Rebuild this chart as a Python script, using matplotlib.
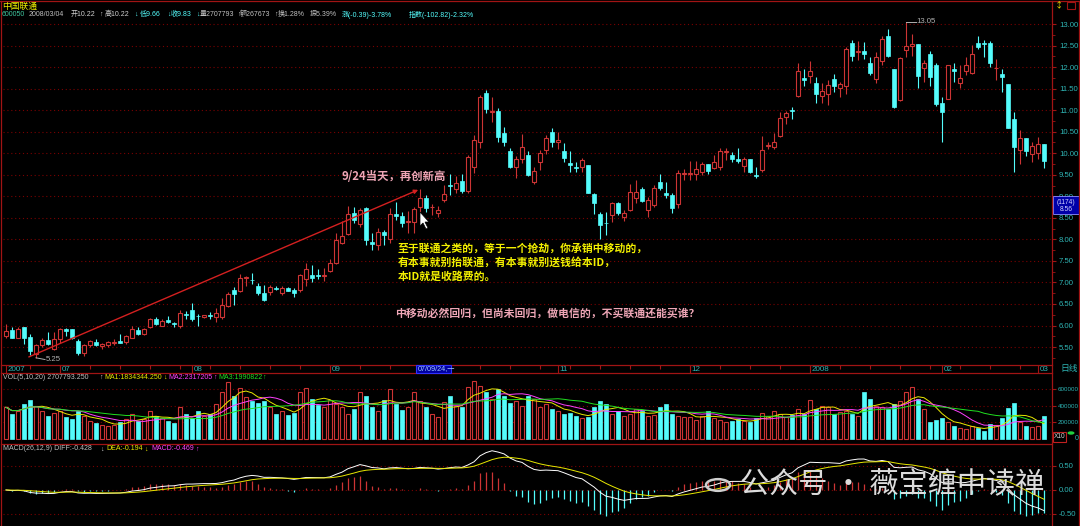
import matplotlib
matplotlib.use('Agg')
import matplotlib.pyplot as plt
import numpy as np
import pandas as pd
from matplotlib.patches import Rectangle, Polygon, Circle
from matplotlib.lines import Line2D

plt.rcParams['font.family'] = ['Noto Sans CJK SC', 'DejaVu Sans']

# 日K线数据 (2007-06 ~ 2008-03-04)
opens = [5.76, 5.90, 5.72, 5.97, 5.74, 5.33, 5.54, 5.66, 5.46, 5.68,
         5.92, 5.92, 5.64, 5.37, 5.55, 5.62, 5.52, 5.55, 5.60, 5.64,
         5.61, 5.72, 5.89, 5.81, 5.97, 6.15, 5.99, 6.12, 6.06, 5.98,
         6.26, 6.36, 6.23, 6.19, 6.25, 6.20, 6.19, 6.46, 6.82, 6.80,
         7.10, 7.06, 6.92, 6.75, 6.78, 6.87, 6.75, 6.88, 6.82, 6.82,
         7.07, 7.18, 7.17, 7.16, 7.26, 7.46, 7.92, 8.13, 8.62, 8.36,
         8.72, 7.95, 7.87, 8.18, 8.02, 8.60, 8.54, 8.41, 8.41, 8.76,
         8.95, 8.74, 8.62, 8.91, 9.26, 9.18, 9.36, 9.13, 9.69, 10.27,
         11.39, 10.95, 10.99, 10.46, 10.04, 9.67, 9.86, 9.96, 9.34, 9.80,
         10.07, 10.50, 10.26, 10.06, 9.77, 9.67, 9.69, 9.73, 9.05, 8.60,
         8.39, 8.57, 8.85, 8.53, 8.68, 8.95, 9.16, 8.68, 8.80, 9.34,
         9.07, 9.03, 8.82, 9.51, 9.52, 9.52, 9.57, 9.75, 9.65, 9.67,
         10.03, 9.96, 9.86, 9.70, 9.86, 9.50, 9.61, 10.17, 10.15, 10.40,
         10.85, 11.00, 11.33, 11.74, 11.80, 11.64, 11.33, 11.38, 11.72, 11.51,
         11.56, 12.55, 12.36, 12.38, 12.10, 11.72, 12.13, 12.71, 11.95, 11.24,
         12.40, 12.50, 12.54, 11.97, 12.30, 12.05, 11.16, 11.27, 11.96, 11.64,
         11.92, 11.87, 12.57, 12.55, 12.57, 11.97, 11.85, 11.60, 10.79, 10.07,
         10.35, 9.98, 10.00, 10.22]
highs = [6.03, 5.97, 5.97, 5.97, 5.80, 5.57, 5.72, 5.85, 5.85, 5.95,
         5.95, 5.92, 5.68, 5.58, 5.66, 5.69, 5.60, 5.65, 5.69, 5.81,
         5.79, 5.98, 5.97, 5.94, 6.17, 6.19, 6.14, 6.22, 6.07, 6.36,
         6.34, 6.53, 6.26, 6.25, 6.31, 6.40, 6.65, 6.77, 6.90, 7.20,
         7.15, 7.22, 6.99, 6.93, 6.95, 6.91, 6.91, 6.90, 6.86, 7.20,
         7.44, 7.41, 7.31, 7.34, 7.54, 8.15, 8.43, 8.78, 8.76, 8.72,
         8.76, 8.14, 8.26, 8.22, 8.72, 8.87, 8.64, 8.67, 8.74, 9.18,
         9.03, 8.82, 8.77, 9.26, 9.52, 9.46, 9.52, 9.96, 10.42, 11.35,
         11.47, 11.30, 11.04, 10.62, 10.11, 9.94, 10.45, 10.04, 9.67, 10.07,
         10.42, 10.58, 10.50, 10.23, 10.06, 9.80, 9.88, 9.73, 9.07, 8.64,
         8.64, 8.87, 8.87, 8.68, 9.28, 9.38, 9.22, 8.99, 9.26, 9.52,
         9.34, 9.07, 9.61, 9.63, 9.83, 9.83, 9.80, 9.75, 9.96, 10.11,
         10.11, 10.03, 10.11, 9.92, 9.86, 9.69, 10.40, 10.27, 10.46, 10.96,
         10.99, 11.07, 12.09, 11.95, 12.15, 11.78, 11.62, 11.70, 11.85, 11.66,
         12.47, 12.63, 12.61, 12.59, 12.24, 12.36, 12.71, 12.88, 11.95, 12.23,
         13.05, 12.77, 12.54, 12.17, 12.38, 12.09, 11.30, 12.05, 12.09, 12.05,
         12.23, 12.51, 12.72, 12.63, 12.60, 12.18, 11.95, 11.60, 10.96, 10.54,
         10.35, 10.27, 10.38, 10.22]
lows = [5.72, 5.70, 5.70, 5.57, 5.32, 5.25, 5.50, 5.55, 5.42, 5.60,
        5.76, 5.68, 5.32, 5.30, 5.50, 5.52, 5.46, 5.50, 5.54, 5.59,
        5.57, 5.70, 5.79, 5.79, 5.94, 6.02, 5.98, 6.05, 5.97, 5.95,
        6.15, 6.10, 6.00, 6.17, 6.15, 6.07, 6.15, 6.42, 6.47, 6.77,
        6.92, 6.97, 6.71, 6.57, 6.70, 6.83, 6.70, 6.79, 6.66, 6.78,
        6.92, 7.00, 7.07, 7.04, 7.24, 7.42, 7.90, 8.09, 8.37, 8.29,
        7.87, 7.75, 7.75, 7.87, 7.91, 8.45, 8.29, 8.14, 8.14, 8.64,
        8.64, 8.57, 8.53, 8.87, 9.03, 9.07, 9.08, 9.07, 9.53, 10.11,
        10.93, 10.73, 10.27, 10.17, 9.65, 9.42, 9.77, 9.46, 9.29, 9.61,
        9.98, 10.15, 10.09, 9.80, 9.57, 9.57, 9.57, 9.07, 8.60, 8.02,
        8.10, 8.41, 8.57, 8.43, 8.67, 8.84, 8.87, 8.53, 8.76, 9.15,
        8.95, 8.62, 8.72, 9.38, 9.38, 9.38, 9.49, 9.52, 9.63, 9.61,
        9.84, 9.80, 9.77, 9.57, 9.55, 9.42, 9.57, 10.09, 10.09, 10.38,
        10.68, 10.79, 11.31, 11.55, 11.62, 11.17, 11.17, 11.12, 11.43, 11.31,
        11.38, 12.13, 12.16, 12.18, 11.82, 11.62, 12.05, 12.23, 11.04, 11.22,
        12.23, 12.26, 11.51, 11.66, 11.56, 11.10, 10.27, 11.25, 11.66, 11.51,
        11.82, 11.85, 12.43, 12.24, 12.01, 11.70, 11.43, 10.58, 9.57, 9.76,
        9.94, 9.80, 9.86, 9.66]
closes = [5.88, 5.72, 5.92, 5.72, 5.41, 5.55, 5.66, 5.57, 5.68, 5.92,
          5.88, 5.72, 5.37, 5.55, 5.63, 5.54, 5.58, 5.61, 5.62, 5.59,
          5.75, 5.92, 5.81, 5.92, 6.15, 6.03, 6.11, 6.09, 6.03, 6.29,
          6.25, 6.15, 6.22, 6.25, 6.22, 6.28, 6.48, 6.73, 6.74, 7.11,
          7.12, 7.05, 6.76, 6.59, 6.90, 6.85, 6.88, 6.81, 6.76, 7.17,
          7.31, 7.10, 7.15, 7.17, 7.45, 7.98, 8.08, 8.59, 8.45, 8.68,
          7.98, 7.89, 8.18, 8.10, 8.60, 8.54, 8.39, 8.43, 8.71, 8.95,
          8.72, 8.75, 8.68, 9.05, 9.24, 9.30, 9.13, 9.92, 10.31, 11.31,
          11.02, 10.98, 10.37, 10.27, 9.67, 9.86, 10.14, 9.49, 9.59, 10.01,
          10.35, 10.27, 10.31, 9.88, 9.73, 9.66, 9.84, 9.08, 8.84, 8.33,
          8.37, 8.85, 8.62, 8.62, 9.09, 9.11, 8.90, 8.91, 9.19, 9.19,
          9.03, 8.72, 9.55, 9.53, 9.54, 9.63, 9.75, 9.59, 9.80, 10.05,
          10.05, 9.86, 9.83, 9.86, 9.57, 9.47, 10.07, 10.19, 10.27, 10.81,
          10.93, 10.99, 11.91, 11.69, 11.91, 11.38, 11.44, 11.58, 11.56, 11.61,
          12.41, 12.26, 12.37, 12.30, 11.87, 12.24, 12.65, 12.26, 11.08, 12.20,
          12.49, 12.53, 11.79, 12.09, 11.78, 11.14, 10.96, 12.05, 11.92, 11.74,
          12.05, 12.30, 12.47, 12.53, 12.09, 11.98, 11.76, 10.58, 10.14, 10.35,
          10.06, 10.17, 10.22, 9.83]
# 成交量 (单位: 千, 坐标 X10)
volumes = [380, 300, 340, 420, 470, 400, 330, 270, 310,
           340, 260, 240, 330, 280, 210, 190, 170, 160, 170, 200,
           240, 300, 220, 240, 330, 270, 250, 210, 190, 380, 300,
           250, 330, 280, 300, 420, 560, 680, 520, 610, 500, 450,
           430, 460, 380, 300, 330, 290, 310, 560, 610, 480, 410, 380,
           470, 420, 380, 300, 360, 560, 520, 380, 330, 470, 600,
           420, 350, 380, 560, 450, 380, 300, 260, 440,
           520, 400, 380, 620, 700, 640, 560, 480, 600, 520, 430,
           460, 400, 520, 480, 380, 420, 360,
           330, 300, 310, 280, 250, 260, 380, 460, 420, 300, 330,
           280, 300, 360, 330, 270, 290, 380, 420, 300, 280, 260,
           260, 230, 280, 330, 250, 230, 200, 210, 240, 220, 200,
           250, 310, 280, 330, 300, 260, 290, 360, 300,
           470, 360, 400, 380, 300, 320, 330, 300, 280, 560, 480,
           400, 380, 360, 420, 450, 560, 620, 480, 360, 200, 230,
           250, 200, 150, 130, 120, 150, 130, 100, 180, 170, 250,
           370, 430, 200, 150, 140,
           155, 270.78]

month_pos = [0, 9, 31, 54, 92, 114, 134, 156, 172]
month_labels = ['2007', '07', '08', '09', '11', '12', '2008', '02', '03']
price_ticks = np.arange(5.5, 13.01, 0.5)
vol_ticks = [200000, 400000, 600000]
macd_ticks = [-0.5, 0.0, 0.5]

o = np.array(opens); h = np.array(highs); l = np.array(lows); c = np.array(closes)
vol = np.array(volumes) * 1000
idx = np.arange(len(c))
up = c >= o

# MACD(26,12,9) 和 VOL均线
s = pd.Series(c)
diff = s.ewm(span=12, adjust=False).mean() - s.ewm(span=26, adjust=False).mean()
dea = diff.ewm(span=9, adjust=False).mean()
macd = 2 * (diff - dea)
vs = pd.Series(vol)
ma5 = vs.rolling(5, min_periods=1).mean()
ma10 = vs.rolling(10, min_periods=1).mean()
ma20 = vs.rolling(20, min_periods=1).mean()

RED = '#cc3434'
CYAN = '#54fcfc'
TEAL = '#2fb4b4'
GRID = '#7a0000'
BORDER = '#a01414'
NUMFONT = ['Liberation Sans', 'DejaVu Sans']
HEADFONT = ['Liberation Sans', 'Noto Sans CJK SC', 'DejaVu Sans']

W, H = 1080, 526
fig = plt.figure(figsize=(10.8, 5.26), dpi=100, facecolor='black')

def fx(x):
    return x / W

def fy(y):
    return 1 - y / H

def panel(x0, y0, x1, y1):
    a = fig.add_axes([x0 / W, 1 - y1 / H, (x1 - x0) / W, (y1 - y0) / H])
    a.set_facecolor('black')
    for sp in a.spines.values():
        sp.set_visible(False)
    a.set_xlim(-0.5, 174.33)
    a.set_xticks([])
    return a

def right_ticks(a, ticks, labels, size=5.6, pad=2):
    a.yaxis.tick_right()
    a.set_yticks(ticks)
    a.set_yticklabels(labels)
    a.tick_params(axis='y', length=3, width=0.8, color=BORDER, labelcolor=TEAL,
                  labelsize=size, pad=pad)
    a.grid(axis='y', color=GRID, linestyle=(0, (1, 2.5)), lw=0.8)
    for t in a.get_yticklabels():
        t.set_family(NUMFONT)

# ---- 主图 K线 ----
ax = panel(3, 20, 1052, 365)
ax.set_ylim(5.083, 13.093)
right_ticks(ax, price_ticks, ['%.2f' % t for t in price_ticks])
ax.set_yticks(np.arange(5.25, 13.0, 0.5), minor=True)
ax.tick_params(axis='y', which='minor', length=2, color=BORDER)

cols = np.where(up, RED, CYAN)
ax.vlines(idx, l, h, colors=cols, lw=0.8, zorder=2)
bb = np.minimum(o, c)
bh = np.maximum(np.abs(c - o), 0.012)
ax.bar(idx[up], bh[up], bottom=bb[up], width=0.66, facecolor='black',
       edgecolor=RED, lw=0.8, zorder=3)
ax.bar(idx[~up], bh[~up], bottom=bb[~up], width=0.66, facecolor=CYAN,
       edgecolor=CYAN, lw=0.5, zorder=3)

# 最高最低标注
hi = int(np.argmax(h)); lo = int(np.argmin(l))
ax.plot([hi, hi + 1.6], [h[hi], h[hi]], color='#b0b0b0', lw=0.7, zorder=4)
ax.text(hi + 1.8, h[hi], '%.2f' % h[hi], color='#b0b0b0', fontsize=5.6,
        va='center', family=NUMFONT, zorder=4)
ax.plot([lo, lo + 1.5], [l[lo], l[lo] - 0.04], color='#b0b0b0', lw=0.7, zorder=4)
ax.text(lo + 1.7, l[lo] - 0.04, '%.2f' % l[lo], color='#b0b0b0', fontsize=5.6,
        va='center', family=NUMFONT, zorder=4)

# 趋势线
trend_x = [3.8, 68.7]
trend_y = [5.27, 9.15]
ax.annotate('', xy=(trend_x[1], trend_y[1]), xytext=(trend_x[0], trend_y[0]),
            arrowprops=dict(arrowstyle='-|>', color='#d42020', lw=1.0,
                            mutation_scale=6, shrinkA=0, shrinkB=0), zorder=5)

PINK = '#eea6b6'
YEL = '#f2f000'
fig.text(fx(342), fy(176), '9/24当天，再创新高', color=PINK, fontsize=8.2,
         fontweight='bold', va='center')
for k, line in enumerate(['至于联通之类的，等于一个抢劫，你承销中移动的，',
                          '有本事就别抬联通，有本事就别送钱给本ID，',
                          '本ID就是收路费的。']):
    fig.text(fx(398), fy(249 + 13.5 * k), line, color=YEL, fontsize=7.8,
             fontweight='bold', va='center')
fig.text(fx(395), fy(313), '中移动必然回归，但尚未回归，做电信的，不买联通还能买谁？',
         color=PINK, fontsize=7.8, fontweight='bold', va='center')

# 鼠标指针
cur = [(420, 212), (420, 226), (423, 223), (426, 229), (428, 228), (425, 222), (429, 222)]
fig.patches.append(Polygon([(fx(x), fy(y)) for x, y in cur], closed=True,
                           facecolor='white', edgecolor='black', lw=0.5,
                           transform=fig.transFigure, zorder=10))

# ---- 日期条 ----
axd = panel(3, 365, 1052, 373)
axd.set_ylim(0, 1)
axd.set_yticks([])
axd.vlines(np.arange(4, 174, 5), 0.55, 1, color=BORDER, lw=0.8)
axd.vlines(month_pos, 0, 1, color=BORDER, lw=0.8)
for p, lab in zip(month_pos, month_labels):
    axd.text(p + 0.3, 0.45, lab, color=TEAL, fontsize=5.8, va='center',
             family=NUMFONT)
fig.patches.append(Rectangle((fx(416), fy(373)), fx(35), 8 / H, facecolor='#0000a0',
                             edgecolor='#3030ff', lw=0.8, transform=fig.transFigure, zorder=10))
fig.text(fx(418), fy(369), '07/09/24,一', color='#a0c8ff', fontsize=5.2,
         va='center', family=HEADFONT, zorder=11)

# ---- 成交量 ----
axv = panel(3, 373, 1052, 444)
axv.set_ylim(-60000, 790000)
right_ticks(axv, vol_ticks, [str(t) for t in vol_ticks], size=4.5, pad=1.2)
axv.bar(idx[up], vol[up], width=0.66, facecolor='black', edgecolor=RED, lw=0.8, zorder=3)
axv.bar(idx[~up], vol[~up], width=0.66, facecolor=CYAN, edgecolor=CYAN, lw=0.5, zorder=3)
axv.plot(idx, ma5, color='#e8e800', lw=0.7, zorder=4)
axv.plot(idx, ma10, color='#ff40ff', lw=0.7, zorder=4)
axv.plot(idx, ma20, color='#20e020', lw=0.7, zorder=4)

# ---- MACD ----
axm = panel(3, 444, 1052, 526)
axm.set_ylim(-0.75, 0.958)
right_ticks(axm, macd_ticks, ['-0.50', '0.00', '0.50'])
axm.vlines(idx, 0, macd, colors=np.where(macd >= 0, RED, CYAN), lw=0.9, zorder=3)
axm.plot(idx, diff, color='white', lw=0.7, zorder=4)
axm.plot(idx, dea, color='#e8e800', lw=0.7, zorder=4)

# ---- 边框线 ----
for (x0, y0, x1, y1) in [(0, 1, 1080, 1), (1, 1, 1, 526), (1052, 1, 1052, 526),
                         (1079, 1, 1079, 526), (1, 365, 1052, 365),
                         (1, 373, 1052, 373), (1, 444, 1052, 444)]:
    fig.add_artist(Line2D([fx(x0), fx(x1)], [fy(y0), fy(y1)], color=BORDER, lw=0.9))

# ---- 标题栏 ----
fig.text(fx(2), fy(6), '中国联通', color='#f0f000', fontsize=6.3, va='center')
header = [(2, '600050', '#40c8a0'), (29, '2008/03/04', '#c0c0c0'),
          (71, '开10.22', '#d0d0d0'), (99, '↑', '#d0d0d0'),
          (105, '高10.22', '#d0d0d0'), (134, '↓', CYAN),
          (140, '低9.66', CYAN), (167, '↓', CYAN), (171, '收9.83', CYAN),
          (196, '↓', CYAN), (200, '量2707793', '#c0c0c0'), (237, '↑', '#d0d0d0'),
          (240, '额267673', '#c0c0c0'), (274, '↑', '#d0d0d0'),
          (278, '换1.28%', '#c0c0c0'), (310, '振5.39%', '#c0c0c0'),
          (342, '涨(-0.39)-3.78%', CYAN), (409, '指数(-102.82)-2.32%', CYAN)]
for x, t, col in header:
    fig.text(fx(x), fy(14.5), t, color=col, fontsize=5.0, va='center', family=HEADFONT)

vol_head = [(3, 'VOL(5,10,20) 2707793.250', '#c0c0c0'), (99, '↑', '#d0d0d0'),
            (104, 'MA1:1834344.250', '#e8e800'), (163, '↓', '#e8e800'),
            (168, 'MA2:2317205', '#ff40ff'), (213, '↑', '#ff40ff'),
            (218, 'MA3:1990822', '#20e020'), (262, '↑', '#20e020')]
for x, t, col in vol_head:
    fig.text(fx(x), fy(377.5), t, color=col, fontsize=5.0, va='center', family=HEADFONT)

macd_head = [(3, 'MACD(26,12,9) DIFF:-0.428', '#c0c0c0'), (100, '↓', '#d0d0d0'),
             (106, 'DEA:-0.194', '#e8e800'), (144, '↓', '#e8e800'),
             (151, 'MACD:-0.469', '#ff40ff'), (195, '↑', '#ff40ff')]
for x, t, col in macd_head:
    fig.text(fx(x), fy(449), t, color=col, fontsize=5.0, va='center', family=HEADFONT)

# 右侧
fig.text(fx(1060), fy(369), '日线', color=TEAL, fontsize=6.3, va='center')
fig.patches.append(Rectangle((fx(1053), fy(214)), fx(26), 18 / H, facecolor='#0000a8',
                             edgecolor='#9090ff', lw=0.6, transform=fig.transFigure))
fig.text(fx(1066), fy(202), '(1174)', color='#d0d0ff', fontsize=4.8, ha='center',
         va='center', family=NUMFONT)
fig.text(fx(1066), fy(209.5), '8.56', color='#d0d0ff', fontsize=4.8, ha='center',
         va='center', family=NUMFONT)
fig.text(fx(1059), fy(5), '↕', color='#f0e000', fontsize=6, ha='center', va='center')
fig.patches.append(Rectangle((fx(1067), fy(9)), fx(8), 7 / H, facecolor='none',
                             edgecolor=BORDER, lw=0.8, transform=fig.transFigure))
fig.patches.append(Rectangle((fx(1053), fy(442)), fx(13), 10 / H, facecolor='none',
                             edgecolor='#c02020', lw=0.8, transform=fig.transFigure))
fig.text(fx(1059.5), fy(437), 'X10', color='#d0d0d0', fontsize=4.8, ha='center',
         va='center', family=NUMFONT)
fig.patches.append(Circle((fx(1071), fy(433)), 3.5 / W, facecolor='#20d040',
                          edgecolor='none', transform=fig.transFigure))
fig.text(fx(1075), fy(438), '0', color=TEAL, fontsize=5.0, va='center', family=NUMFONT)

# 水印
fig.patches.append(Circle((fx(718), fy(485)), 12 / W, facecolor='none',
                          edgecolor='#cfcfcf', lw=1.8, transform=fig.transFigure))
fig.text(fx(740), fy(485), '公众号 · 薇宝缠中读禅', color='#dcdcdc', fontsize=21,
         va='center')

fig.savefig('out.png', dpi=100, facecolor='black')
